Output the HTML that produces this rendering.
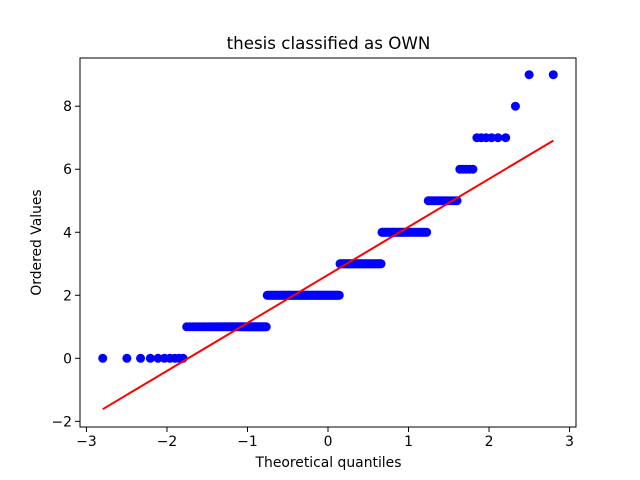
<!DOCTYPE html>
<html><head><meta charset="utf-8"><style>
body{margin:0;background:#fff}
svg{display:block;font-family:"DejaVu Sans","Liberation Sans",sans-serif}
</style></head><body>
<svg id="chart" width="640" height="480">
<rect width="640" height="480" fill="#fff"/>
<text x="328.5" y="49" text-anchor="middle" font-size="16.7">thesis classified as OWN</text>
<g id="plot"></g>
<rect x="80" y="58" width="496" height="369" fill="none" stroke="#000" stroke-width="1"/>
<g id="axes"></g>
<text x="328.5" y="467" text-anchor="middle" font-size="13.9">Theoretical quantiles</text>
<text transform="translate(41,242.5) rotate(-90)" text-anchor="middle" font-size="13.9">Ordered Values</text>
</svg>
<script>
const levels=[0,1,2,3,4,5,6,7,8,9];
const counts=[10,50,90,51,39,15,5,6,1,2];
const xTicks=[-3,-2,-1,0,1,2,3];
const yTicks=[-2,0,2,4,6,8];
const X0=80,X1=576,Y0=427,Y1=58;
const xMin=-3.08,xMax=3.08,yMin=-2.18,yMax=9.53;
const sx=v=>X0+(v-xMin)/(xMax-xMin)*(X1-X0);
const sy=v=>Y0-(v-yMin)/(yMax-yMin)*(Y0-Y1);
function ppf(p){const a=[-39.69683028665376,220.9460984245205,-275.9285104469687,138.3577518672690,-30.66479806614716,2.506628277459239],b=[-54.47609879822406,161.5858368580409,-155.6989798598866,66.80131188771972,-13.28068155288572],c=[-0.007784894002430293,-0.3223964580411365,-2.400758277161838,-2.549732539343734,4.374664141464968,2.938163982698783],d=[0.007784695709041462,0.3224671290700398,2.445134137142996,3.754408661907416];
const pl=0.02425;let q,r;
if(p<pl){q=Math.sqrt(-2*Math.log(p));return(((((c[0]*q+c[1])*q+c[2])*q+c[3])*q+c[4])*q+c[5])/((((d[0]*q+d[1])*q+d[2])*q+d[3])*q+1);}
if(p>1-pl){q=Math.sqrt(-2*Math.log(1-p));return-(((((c[0]*q+c[1])*q+c[2])*q+c[3])*q+c[4])*q+c[5])/((((d[0]*q+d[1])*q+d[2])*q+d[3])*q+1);}
q=p-0.5;r=q*q;return(((((a[0]*r+a[1])*r+a[2])*r+a[3])*r+a[4])*r+a[5])*q/(((((b[0]*r+b[1])*r+b[2])*r+b[3])*r+b[4])*r+1);}
const vals=[];levels.forEach((l,i)=>{for(let k=0;k<counts[i];k++)vals.push(l);});
const n=vals.length;const qs=[];
for(let i=1;i<=n;i++){let m;if(i===n)m=Math.pow(0.5,1/n);else if(i===1)m=1-Math.pow(0.5,1/n);else m=(i-0.3175)/(n+0.365);qs.push(ppf(m));}
let mx=0,my=0;qs.forEach((q,i)=>{mx+=q;my+=vals[i];});mx/=n;my/=n;
let sxy=0,sxx=0;qs.forEach((q,i)=>{sxy+=(q-mx)*(vals[i]-my);sxx+=(q-mx)*(q-mx);});
const slope=sxy/sxx,icpt=my-slope*mx;
const NS="http://www.w3.org/2000/svg";
const plot=document.getElementById('plot'),axes=document.getElementById('axes');
function mk(t,at,par){const e=document.createElementNS(NS,t);for(const k in at)e.setAttribute(k,at[k]);par.appendChild(e);return e;}
qs.forEach((q,i)=>{const c=mk('circle',{cx:sx(q),cy:sy(vals[i]),r:4.5,fill:'#0000ff'},plot);

});
const qa=qs[0],qb=qs[n-1];
const ln=mk('line',{x1:sx(qa),y1:sy(icpt+slope*qa),x2:sx(qb),y2:sy(icpt+slope*qb),stroke:'#ff0000','stroke-width':2},plot);


xTicks.forEach(t=>{const x=sx(t);
const tk=mk('line',{x1:x,y1:Y0,x2:x,y2:Y0+5,stroke:'#000'},axes);


const tx=mk('text',{x:x,y:Y0+19,'text-anchor':'middle','font-size':'13.9'},axes);tx.textContent=(t<0?'\u2212'+(-t):t);

});
yTicks.forEach(t=>{const y=sy(t);
const tk=mk('line',{x1:X0-5,y1:y,x2:X0,y2:y,stroke:'#000'},axes);


const tx=mk('text',{x:X0-8,y:y+5,'text-anchor':'end','font-size':'13.9'},axes);tx.textContent=(t<0?'\u2212'+(-t):t);

});
</script>
</body></html>
